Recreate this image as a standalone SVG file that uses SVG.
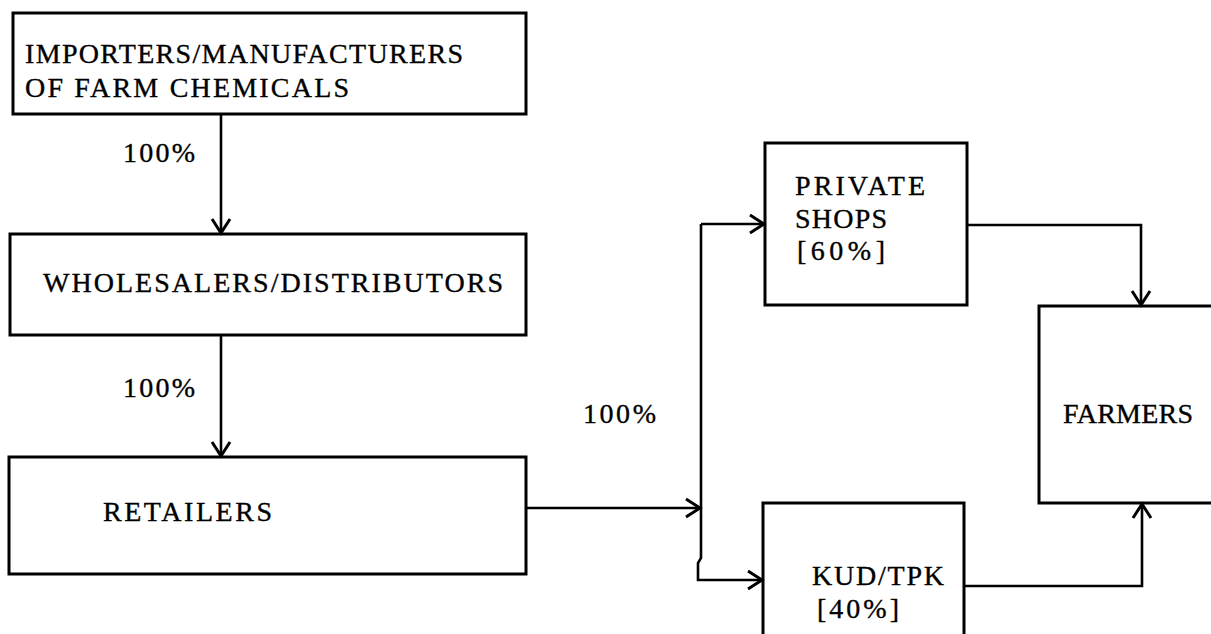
<svg xmlns="http://www.w3.org/2000/svg" width="1211" height="634" viewBox="0 0 1211 634">
<style>
.box{fill:none;stroke:#000;stroke-width:3}
.t{font-family:"Liberation Serif","Times New Roman",serif;font-size:28px;fill:#000;stroke:#000;stroke-width:0.35}
.c{fill:none;stroke:#000;stroke-width:2.6}
</style>
<defs>
<marker id="ah" markerUnits="userSpaceOnUse" markerWidth="24" markerHeight="24" viewBox="-16 -12 18 24" refX="0" refY="0" orient="auto">
<path d="M-14,-9 L0,0 L-14,9" fill="none" stroke="#000" stroke-width="3"/>
</marker>
</defs>
<rect width="1211" height="634" fill="#fff"/>
<g id="importers">
<rect class="box" x="13" y="13" width="513" height="101"/>
<text class="t" x="25" y="63" textLength="438" lengthAdjust="spacing">IMPORTERS/MANUFACTURERS</text>
<text class="t" x="25" y="97" textLength="324" lengthAdjust="spacing">OF FARM CHEMICALS</text>
</g>
<g id="wholesalers">
<rect class="box" x="10" y="234" width="516" height="101"/>
<text class="t" x="43" y="292" textLength="460" lengthAdjust="spacing">WHOLESALERS/DISTRIBUTORS</text>
</g>
<g id="retailers">
<rect class="box" x="9" y="457" width="517" height="117"/>
<text class="t" x="103" y="521" textLength="169" lengthAdjust="spacing">RETAILERS</text>
</g>
<g id="private-shops">
<rect class="box" x="765" y="143" width="202" height="162"/>
<text class="t" x="795" y="195" textLength="130" lengthAdjust="spacing">PRIVATE</text>
<text class="t" x="795" y="228" textLength="92" lengthAdjust="spacing">SHOPS</text>
<text class="t" x="797" y="260" textLength="88" lengthAdjust="spacing">[60%]</text>
</g>
<g id="kud-tpk">
<path class="box" d="M763,640 V503 H964 V640"/>
<text class="t" x="812" y="585" textLength="132" lengthAdjust="spacing">KUD/TPK</text>
<text class="t" x="817" y="618" textLength="82" lengthAdjust="spacing">[40%]</text>
</g>
<g id="farmers">
<path class="box" d="M1215,306 H1039 V503 H1215"/>
<text class="t" x="1063" y="423" textLength="130" lengthAdjust="spacing">FARMERS</text>
</g>
<g id="connectors">
<line class="c" x1="221" y1="114" x2="221" y2="233" marker-end="url(#ah)"/>
<text class="t" x="123" y="162" textLength="72" lengthAdjust="spacing">100%</text>
<line class="c" x1="221" y1="335" x2="221" y2="456" marker-end="url(#ah)"/>
<text class="t" x="123" y="397" textLength="72" lengthAdjust="spacing">100%</text>
<line class="c" x1="526" y1="508" x2="700" y2="508" marker-end="url(#ah)"/>
<text class="t" x="583" y="423" textLength="73" lengthAdjust="spacing">100%</text>
<path class="c" d="M701,224 V558 L698,563 V580 H762" marker-end="url(#ah)"/>
<line class="c" x1="701" y1="224" x2="764" y2="224" marker-end="url(#ah)"/>
<path class="c" d="M967,225 H1141 V305" marker-end="url(#ah)"/>
<path class="c" d="M964,586 H1142 V504" marker-end="url(#ah)"/>
</g>
</svg>
